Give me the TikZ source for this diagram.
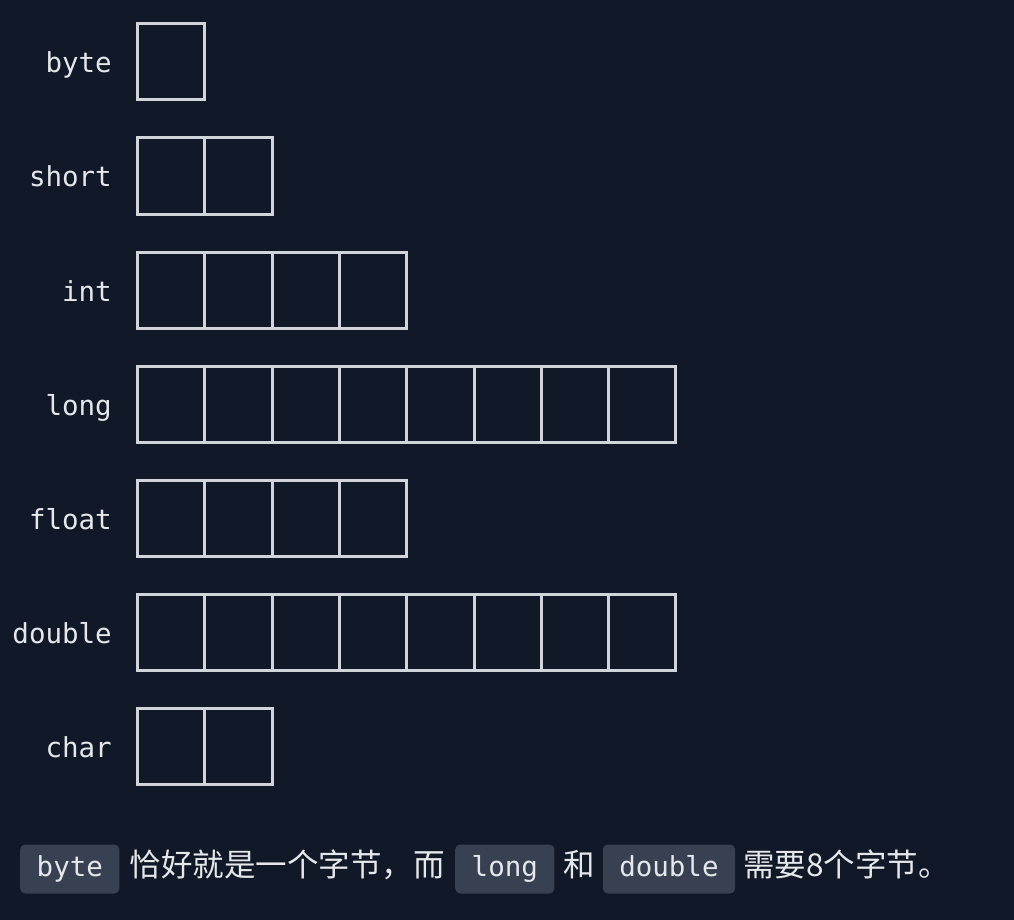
\documentclass[tikz,border=0pt]{standalone}
\usepackage{fontspec}
\setmonofont{DejaVu Sans Mono}
\newfontfamily\cjk{Noto Sans CJK SC}
\usetikzlibrary{positioning}
\definecolor{bgdark}{HTML}{111827}
\definecolor{cellline}{HTML}{D1D5DB}
\definecolor{pillfill}{HTML}{374151}
\definecolor{textlight}{HTML}{E5E7EB}

\begin{document}
\begin{tikzpicture}[x=1pt, y=-1pt,
        cell/.style={draw=cellline, line width=3pt, minimum width=67.3pt, minimum height=76pt,
                     inner sep=0pt, outer sep=0pt, anchor=west},
        tname/.style={text=textlight, font=\ttfamily\fontsize{27.5}{27.5}\selectfont,
                      anchor=base east, inner sep=0pt},
        pill/.style={fill=pillfill, rounded corners=5pt, text=textlight,
                     font=\ttfamily\fontsize{27.5}{27.5}\selectfont,
                     text height=20pt, text depth=6pt, inner xsep=16.5pt, inner ysep=11.5pt},
        note/.style={text=textlight, font=\cjk\fontsize{31.5}{31.5}\selectfont, inner sep=0pt}]

    % fondo
    \fill[bgdark] (0,0) rectangle (1014,920);
    \useasboundingbox (0,0) rectangle (1014,920);

    % una fila por tipo, una celda por byte
    \foreach \name/\n [count=\i from 0] in {byte/1, short/2, int/4, long/8, float/4, double/8, char/2} {
        \node[tname] (lbl-\name) at (112, 73+114*\i) {\name};
        \foreach \k in {1,...,\n}
            \node[cell] (\name-\k) at (137.5+67.3*\k-67.3, 62+114*\i) {};
    }

    % nota inferior
    \node[pill, anchor=base west] (code-byte) at (20, 876) {byte};
    \node[note, base right=10pt of code-byte]   (note-a)      {恰好就是一个字节，而};
    \node[pill, base right=10pt of note-a]      (code-long)   {long};
    \node[note, base right=9pt of code-long]    (note-b)      {和};
    \node[pill, base right=7pt of note-b]       (code-double) {double};
    \node[note, base right=8pt of code-double]  (note-c)      {需要8个字节。};
\end{tikzpicture}
\end{document}
